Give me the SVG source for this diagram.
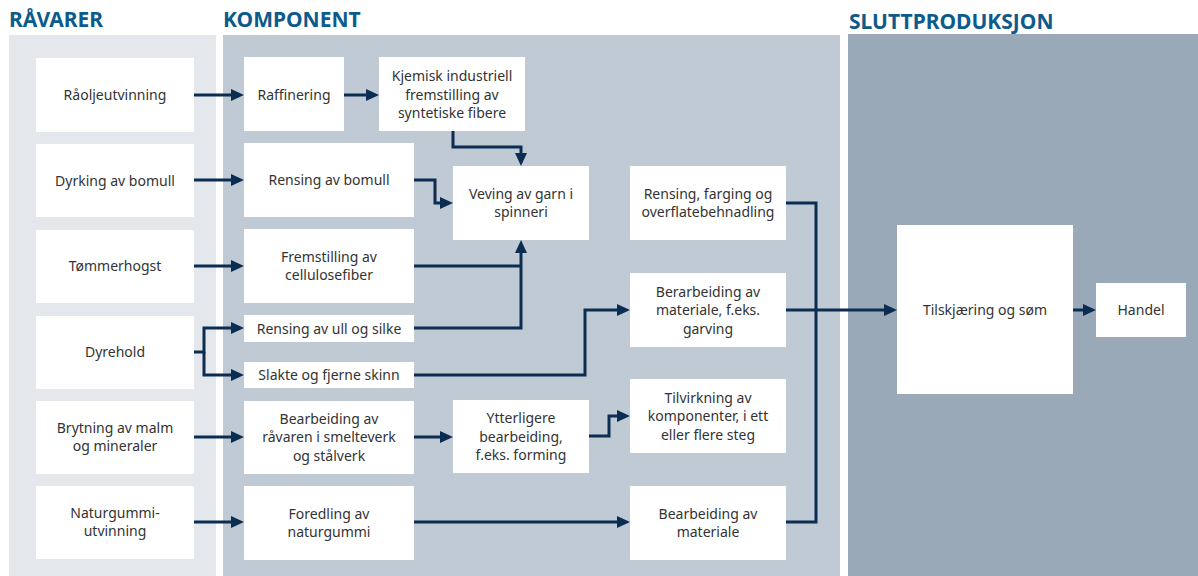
<svg xmlns="http://www.w3.org/2000/svg" width="1198" height="576" viewBox="0 0 1198 576">
<defs>
<style>
.hdr{font-family:"Noto Sans","Open Sans",sans-serif;font-weight:700;font-size:21px;fill:#0d5b8c}
.box{fill:#ffffff}
.t{font-family:"Noto Sans","Open Sans",sans-serif;font-size:14px;fill:#333333;text-anchor:middle}
.c{fill:none;stroke:#0c2d52;stroke-width:3;stroke-linejoin:miter}
.a{marker-end:url(#ah)}
</style>
<marker id="ah" markerUnits="userSpaceOnUse" markerWidth="13" markerHeight="12" refX="4" refY="6" orient="auto">
<path d="M0,0 L13,6 L0,12 z" fill="#0c2d52"/>
</marker>
</defs>
<rect width="1198" height="576" fill="#ffffff"/>
<g id="panels">
<rect x="9" y="35" width="207" height="541" fill="#e4e8ed"/>
<rect x="223" y="35" width="617" height="541" fill="#bfcad4"/>
<rect x="848" y="34" width="350" height="542" fill="#9aa9b8"/>
<text class="hdr" x="9" y="27">RÅVARER</text>
<text class="hdr" x="223" y="27">KOMPONENT</text>
<text class="hdr" x="849" y="29">SLUTTPRODUKSJON</text>
</g>
<g id="connectors">
<path class="c a" d="M194,95 H235"/>
<path class="c a" d="M344,95 H370"/>
<path class="c a" d="M453,131 V147 H521 V157"/>
<path class="c a" d="M414,180 H435 V203 H444"/>
<path class="c a" d="M194,180 H235"/>
<path class="c a" d="M194,266 H235"/>
<path class="c" d="M414,266 H521"/>
<path class="c a" d="M414,328 H521 V249"/>
<path class="c a" d="M194,352 H204 V328 H235"/>
<path class="c a" d="M204,352 V375 H235"/>
<path class="c a" d="M414,375 H585 V310 H621"/>
<path class="c a" d="M194,437 H235"/>
<path class="c a" d="M414,437 H444"/>
<path class="c a" d="M589,436 H609 V416 H621"/>
<path class="c a" d="M194,522 H235"/>
<path class="c a" d="M414,522 H621"/>
<path class="c" d="M786,203 H816 V522 H786"/>
<path class="c a" d="M786,310 H888"/>
<path class="c a" d="M1073,310 H1087"/>
</g>
<g id="raoljeutvinning"><rect class="box" x="36" y="58" width="158" height="74"/><text class="t" x="115" y="100">Råoljeutvinning</text></g>
<g id="dyrking"><rect class="box" x="36" y="144" width="158" height="73"/><text class="t" x="115" y="185.5">Dyrking av bomull</text></g>
<g id="tommerhogst"><rect class="box" x="36" y="230" width="158" height="73"/><text class="t" x="115" y="271">Tømmerhogst</text></g>
<g id="dyrehold"><rect class="box" x="36" y="316" width="158" height="73"/><text class="t" x="115" y="357">Dyrehold</text></g>
<g id="brytning"><rect class="box" x="36" y="401" width="158" height="73"/><text class="t" x="115" y="432.5">Brytning av malm</text><text class="t" x="115" y="451">og mineraler</text></g>
<g id="naturgummi"><rect class="box" x="36" y="486" width="158" height="73"/><text class="t" x="115" y="517.5">Naturgummi-</text><text class="t" x="115" y="536">utvinning</text></g>
<g id="raffinering"><rect class="box" x="244" y="57" width="100" height="74"/><text class="t" x="294" y="99.5">Raffinering</text></g>
<g id="kjemisk"><rect class="box" x="379" y="57" width="146" height="74"/><text class="t" x="452" y="81">Kjemisk industriell</text><text class="t" x="452" y="99.5">fremstilling av</text><text class="t" x="452" y="118">syntetiske fibere</text></g>
<g id="rensing-bomull"><rect class="box" x="244" y="143" width="170" height="74"/><text class="t" x="329" y="185">Rensing av bomull</text></g>
<g id="fremstilling"><rect class="box" x="244" y="229" width="170" height="74"/><text class="t" x="329" y="261.5">Fremstilling av</text><text class="t" x="329" y="280">cellulosefiber</text></g>
<g id="rensing-ull"><rect class="box" x="244" y="315" width="170" height="27"/><text class="t" x="329" y="333.5">Rensing av ull og silke</text></g>
<g id="slakte"><rect class="box" x="244" y="362" width="170" height="26"/><text class="t" x="329" y="380">Slakte og fjerne skinn</text></g>
<g id="bearbeiding-raavaren"><rect class="box" x="244" y="401" width="170" height="73"/><text class="t" x="329" y="423.5">Bearbeiding av</text><text class="t" x="329" y="442">råvaren i smelteverk</text><text class="t" x="329" y="460.5">og stålverk</text></g>
<g id="ytterligere"><rect class="box" x="453" y="400" width="136" height="73"/><text class="t" x="521" y="423">Ytterligere</text><text class="t" x="521" y="441.5">bearbeiding,</text><text class="t" x="521" y="460">f.eks. forming</text></g>
<g id="foredling"><rect class="box" x="244" y="486" width="170" height="74"/><text class="t" x="329" y="518.5">Foredling av</text><text class="t" x="329" y="537">naturgummi</text></g>
<g id="veving"><rect class="box" x="453" y="166" width="136" height="74"/><text class="t" x="521" y="198.5">Veving av garn i</text><text class="t" x="521" y="217">spinneri</text></g>
<g id="rensing-farging"><rect class="box" x="630" y="166" width="156" height="74"/><text class="t" x="708" y="198.5">Rensing, farging og</text><text class="t" x="708" y="217">overflatebehnadling</text></g>
<g id="garving"><rect class="box" x="630" y="273" width="156" height="74"/><text class="t" x="708" y="296.5">Berarbeiding av</text><text class="t" x="708" y="315">materiale, f.eks.</text><text class="t" x="708" y="333.5">garving</text></g>
<g id="tilvirkning"><rect class="box" x="630" y="379" width="156" height="74"/><text class="t" x="708" y="402.5">Tilvirkning av</text><text class="t" x="708" y="421">komponenter, i ett</text><text class="t" x="708" y="439.5">eller flere steg</text></g>
<g id="bearbeiding-materiale"><rect class="box" x="630" y="486" width="156" height="74"/><text class="t" x="708" y="518.5">Bearbeiding av</text><text class="t" x="708" y="537">materiale</text></g>
<g id="tilskjaering"><rect class="box" x="897" y="225" width="176" height="169"/><text class="t" x="985" y="315">Tilskjæring og søm</text></g>
<g id="handel"><rect class="box" x="1096" y="283" width="90" height="54"/><text class="t" x="1141" y="315">Handel</text></g>
</svg>
